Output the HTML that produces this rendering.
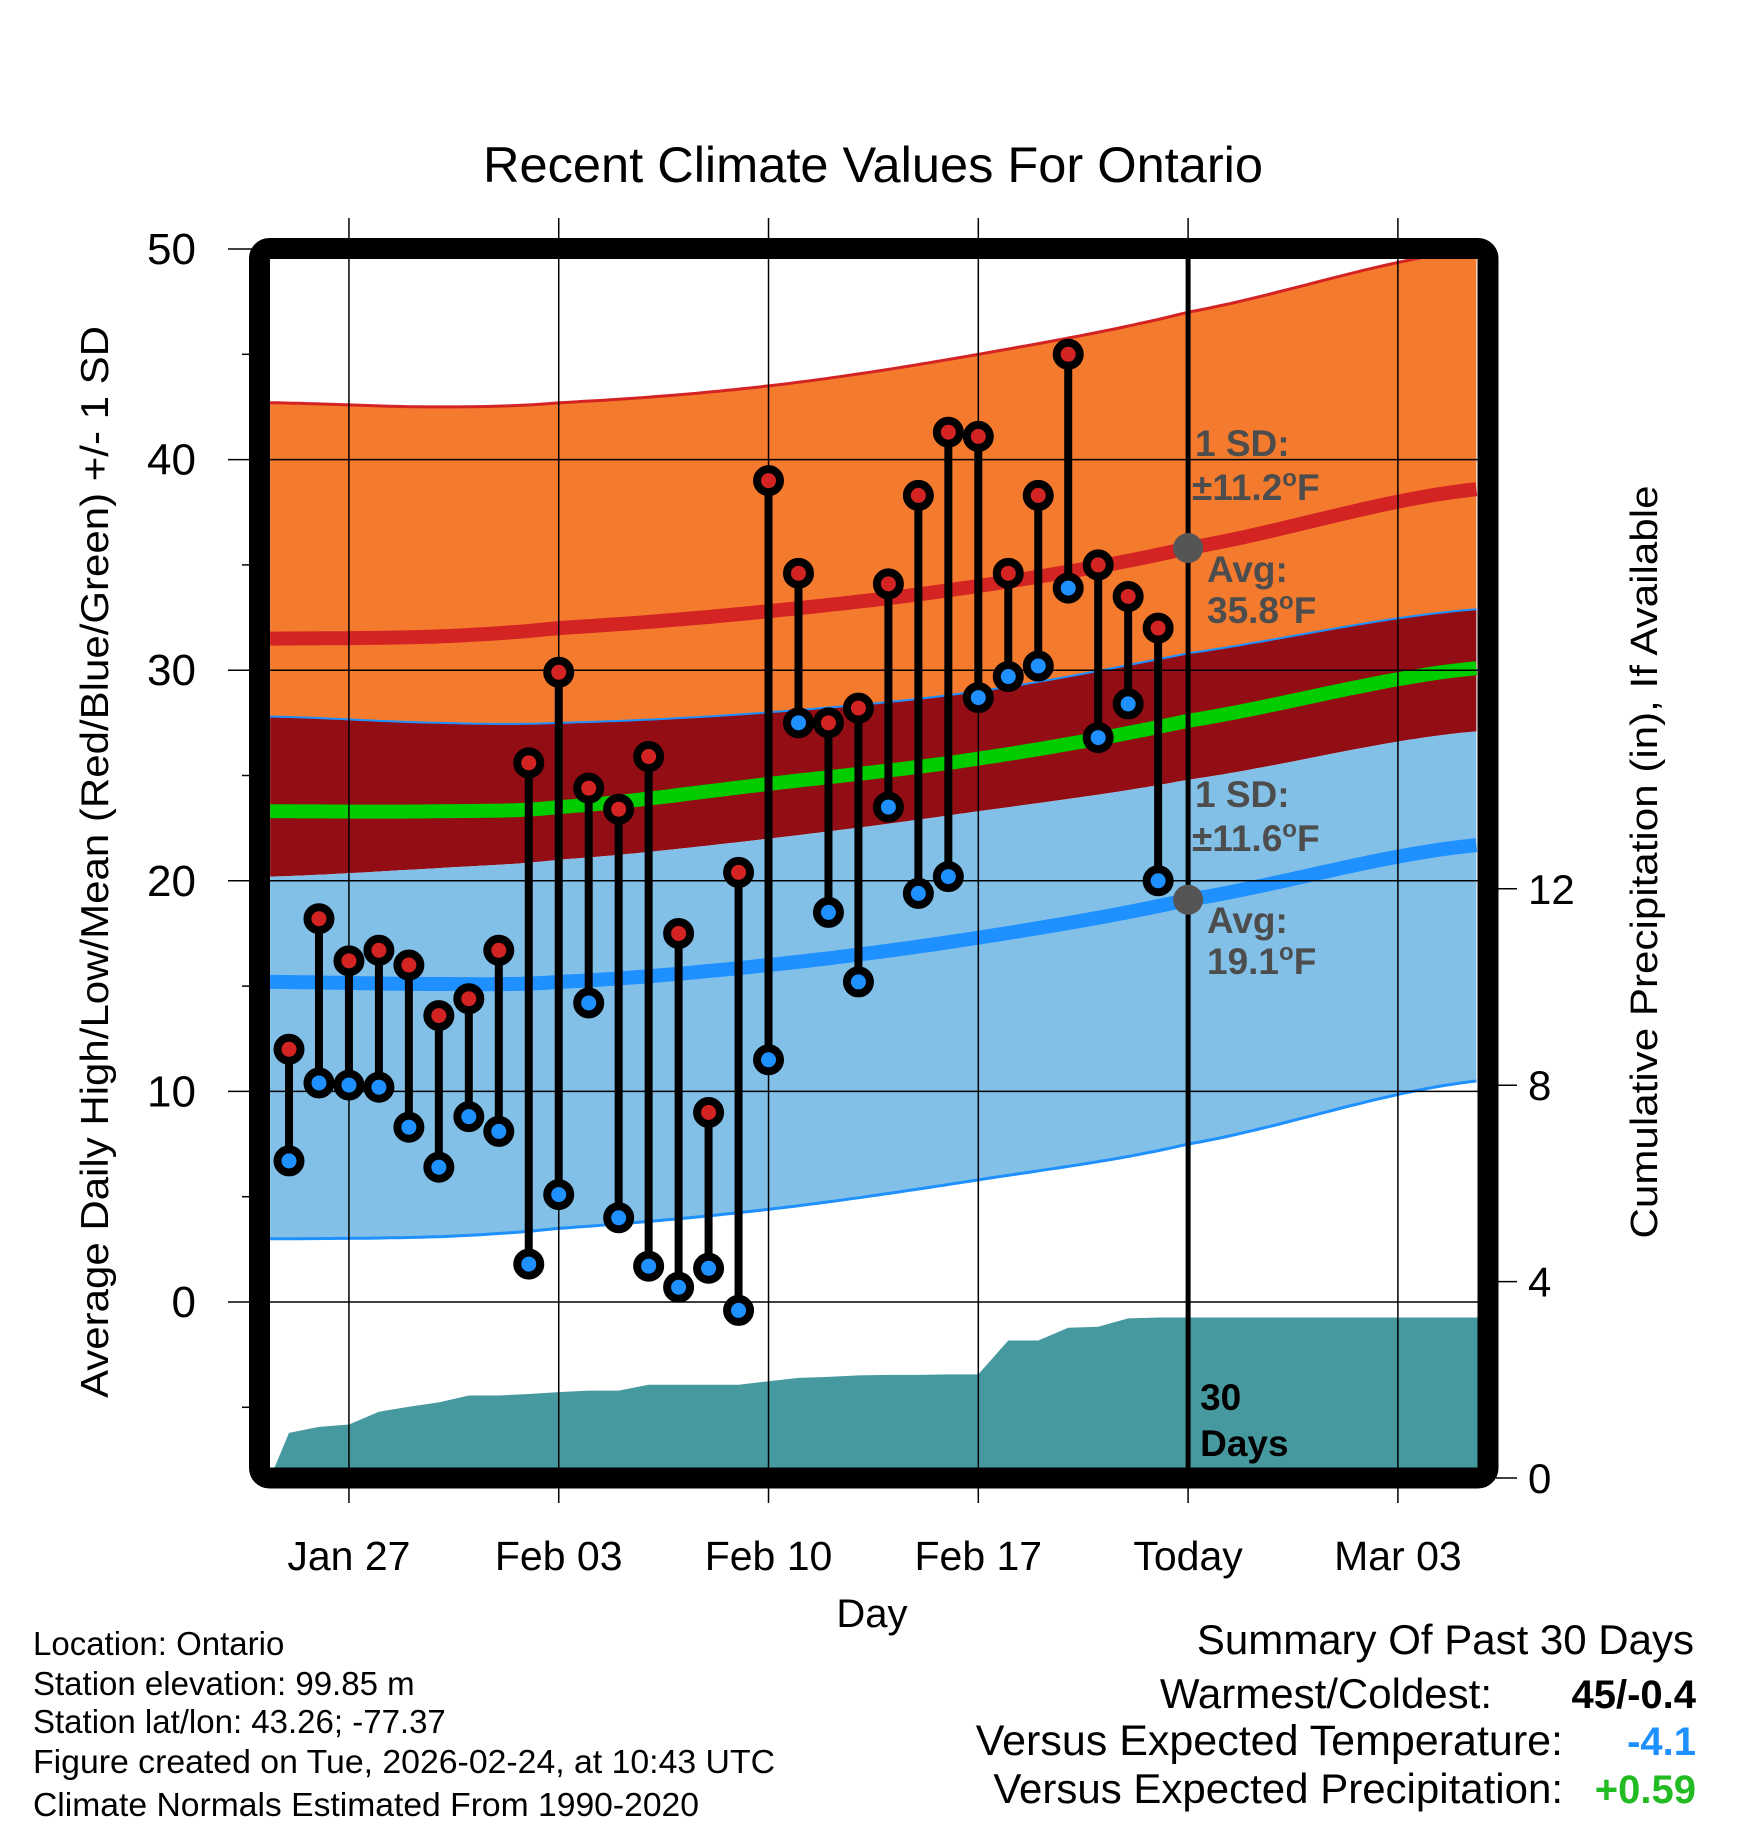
<!DOCTYPE html>
<html><head><meta charset="utf-8"><style>
html,body{margin:0;padding:0;background:#fff;}
svg{display:block;font-family:"Liberation Sans",Arial,sans-serif;}
</style></head><body>
<svg id="chart" width="1748" height="1828" viewBox="0 0 1748 1828" xmlns="http://www.w3.org/2000/svg">
<defs><clipPath id="plotclip"><rect x="270" y="259" width="1208" height="1209"/></clipPath></defs>
<rect x="0" y="0" width="1748" height="1828" fill="#fff"/>
<text x="873" y="182" font-size="50" text-anchor="middle" textLength="780" lengthAdjust="spacingAndGlyphs">Recent Climate Values For Ontario</text>
<g id="grid"></g>
<g id="plot" clip-path="url(#plotclip)"></g>
<g id="marks"></g>
<rect x="259.5" y="248.5" width="1228.5" height="1229.5" rx="10" fill="none" stroke="#000" stroke-width="21"/>
<g id="axes"></g>
<text transform="translate(108,862) rotate(-90)" font-size="39" text-anchor="middle" textLength="1072" lengthAdjust="spacingAndGlyphs">Average Daily High/Low/Mean (Red/Blue/Green) +/- 1 SD</text>
<text transform="translate(1657,862) rotate(-90)" font-size="38" text-anchor="middle" textLength="753" lengthAdjust="spacingAndGlyphs">Cumulative Precipitation (in), If Available</text>
<text x="872" y="1627" font-size="40" text-anchor="middle">Day</text>
<g font-size="33">
<text x="33" y="1655">Location: Ontario</text>
<text x="33" y="1695">Station elevation: 99.85 m</text>
<text x="33" y="1733">Station lat/lon: 43.26; -77.37</text>
<text x="33" y="1773" textLength="742" lengthAdjust="spacingAndGlyphs">Figure created on Tue, 2026-02-24, at 10:43 UTC</text>
<text x="33" y="1816" textLength="666" lengthAdjust="spacingAndGlyphs">Climate Normals Estimated From 1990-2020</text>
</g>
<g text-anchor="end">
<text x="1694" y="1654" font-size="42">Summary Of Past 30 Days</text>
<text x="1492" y="1708" font-size="42">Warmest/Coldest:</text>
<text x="1696" y="1708" font-size="40" font-weight="bold">45/-0.4</text>
<text x="1563" y="1755" font-size="43">Versus Expected Temperature:</text>
<text x="1696" y="1755" font-size="40" font-weight="bold" fill="#1e90ff">-4.1</text>
<text x="1563" y="1803" font-size="42">Versus Expected Precipitation:</text>
<text x="1696" y="1803" font-size="40" font-weight="bold" fill="#22bb22">+0.59</text>
</g>
</svg>
<script>
// ---- data (days measured from Jan 25) ----
const highs = [12.0,18.2,16.2,16.7,16.0,13.6,14.4,16.7,25.6,29.9,24.4,23.4,25.9,17.5,9.0,20.4,39.0,34.6,27.5,28.2,34.1,38.3,41.3,41.1,34.6,38.3,45.0,35.0,33.5,32.0];
const lows = [6.7,10.4,10.3,10.2,8.3,6.4,8.8,8.1,1.8,5.1,14.2,4.0,1.7,0.7,1.6,-0.4,11.5,27.5,18.5,15.2,23.5,19.4,20.2,28.7,29.7,30.2,33.9,26.8,28.4,20.0];
const precipCum = [0.92,1.04,1.09,1.35,1.45,1.54,1.68,1.68,1.71,1.75,1.78,1.78,1.9,1.9,1.9,1.9,1.97,2.04,2.06,2.09,2.1,2.1,2.11,2.11,2.8,2.8,3.06,3.08,3.25,3.27];
const normDays = [-0.63,5,9,16,23,30,39.67];
const highUpper = [42.7,42.5,42.7,43.5,45.0,47.0,50.0];
const highAvg = [31.5,31.6,32.0,32.8,34.0,35.8,38.6];
const highLower = [27.8,27.5,27.5,28.0,29.0,30.8,32.9];
const meanAvg = [23.3,23.3,23.5,24.6,25.8,27.6,30.1];
const lowUpper = [20.2,20.6,21.0,22.0,23.3,24.8,27.1];
const lowAvg = [15.2,15.1,15.2,16.0,17.3,19.1,21.7];
const lowLower = [3.0,3.1,3.5,4.4,5.8,7.5,10.5];
const yTicks = [0,10,20,30,40,50];
const y2Ticks = [0,4,8,12];
const xTickDays = [2,9,16,23,30,37];
const xTickLabels = ["Jan 27","Feb 03","Feb 10","Feb 17","Today","Mar 03"];
const todayDay = 30;
const todayHighAvg = 35.8, todayLowAvg = 19.1;

// ---- scales ----
const X0 = 289, DX = 29.97;
const xs = d => X0 + d*DX;
const ys = t => 249 + (50 - t)*21.06;
const yp = p => 1478 - p*49.1;
const NS = "http://www.w3.org/2000/svg";
function mk(tag, parent, attrs){ const e=document.createElementNS(NS,tag); for(const k in attrs) e.setAttribute(k,attrs[k]); parent.appendChild(e); return e; }

function interp(arr, d){
  let i=0; while(i<normDays.length-2 && d>normDays[i+1]) i++;
  const t=(d-normDays[i])/(normDays[i+1]-normDays[i]);
  const p0=arr[Math.max(i-1,0)],p1=arr[i],p2=arr[i+1],p3=arr[Math.min(i+2,arr.length-1)];
  const t2=t*t,t3=t2*t;
  return 0.5*((2*p1)+(-p0+p2)*t+(2*p0-5*p1+4*p2-p3)*t2+(-p0+3*p1-3*p2+p3)*t3);
}
const sampleDays=[]; for(let d=normDays[0]; d<=normDays[normDays.length-1]+0.001; d+=0.25) sampleDays.push(d);
function linePts(arr){ return sampleDays.map(d=>xs(d).toFixed(1)+","+ys(interp(arr,d)).toFixed(1)); }
function band(upper, lower){ return linePts(upper).concat(linePts(lower).reverse()).join(" "); }

const plot=document.getElementById('plot');
const marks=document.getElementById('marks');
const axes=document.getElementById('axes');

let e;
e=mk('polygon',plot,{points:band(highUpper,highLower),fill:'#f47a2e'});
 
e=mk('polygon',plot,{points:band(highLower,lowUpper),fill:'#930d14'});
 
e=mk('polygon',plot,{points:band(lowUpper,lowLower),fill:'#82c0e8'});
 
e=mk('polyline',plot,{points:linePts(highUpper).join(" "),fill:'none',stroke:'#d42323','stroke-width':3});
 
e=mk('polyline',plot,{points:linePts(highLower).join(" "),fill:'none',stroke:'#1e90ff','stroke-width':2});
 
e=mk('polyline',plot,{points:linePts(lowLower).join(" "),fill:'none',stroke:'#1e90ff','stroke-width':3});
 
e=mk('polyline',plot,{points:linePts(highAvg).join(" "),fill:'none',stroke:'#d42323','stroke-width':14});
 
e=mk('polyline',plot,{points:linePts(meanAvg).join(" "),fill:'none',stroke:'#00cc00','stroke-width':14});
 
e=mk('polyline',plot,{points:linePts(lowAvg).join(" "),fill:'none',stroke:'#1e90ff','stroke-width':14});
 

// precipitation area
let pp=[xs(normDays[0])+","+yp(0)];
precipCum.forEach((p,i)=>pp.push(xs(i)+","+yp(p)));
pp.push(xs(normDays[normDays.length-1])+","+yp(precipCum[precipCum.length-1]));
pp.push(xs(normDays[normDays.length-1])+","+yp(0));
e=mk('polygon',plot,{points:pp.join(" "),fill:'#4799a0'});
 

yTicks.forEach(t=>{
  e=mk('line',plot,{x1:260,x2:1490,y1:ys(t),y2:ys(t),stroke:'#000','stroke-width':1.5});
   
  e=mk('line',axes,{x1:228,x2:252,y1:ys(t),y2:ys(t),stroke:'#000','stroke-width':1.5});
   
  e=mk('text',axes,{x:196,y:ys(t)+15,'font-size':44,'text-anchor':'end'});
  e.textContent=t;
   
});
[5,15,25,35,45,-5].forEach(t=>{
  e=mk('line',axes,{x1:242,x2:252,y1:ys(t),y2:ys(t),stroke:'#000','stroke-width':1.5});
   
});
xTickDays.forEach((d,i)=>{
  e=mk('line',plot,{x1:xs(d),x2:xs(d),y1:250,y2:1480,stroke:'#000','stroke-width':1.5});
   
  e=mk('line',axes,{x1:xs(d),x2:xs(d),y1:218,y2:240,stroke:'#000','stroke-width':1.5});
   
  e=mk('line',axes,{x1:xs(d),x2:xs(d),y1:1486,y2:1503,stroke:'#000','stroke-width':1.5});
   
  e=mk('text',axes,{x:xs(d),y:1570,'font-size':41,'text-anchor':'middle'});
  e.textContent=xTickLabels[i];
   
});
y2Ticks.forEach(p=>{
  e=mk('line',axes,{x1:1496,x2:1517,y1:yp(p),y2:yp(p),stroke:'#000','stroke-width':1.5});
   
  e=mk('text',axes,{x:1528,y:yp(p)+15,'font-size':42});
  e.textContent=p;
   
});

e=mk('line',plot,{x1:xs(todayDay),x2:xs(todayDay),y1:250,y2:1480,stroke:'#000','stroke-width':5});
 
e=mk('text',plot,{x:xs(todayDay)+12,y:1410,'font-size':37,'font-weight':'bold'});
e.textContent='30';
 
e=mk('text',plot,{x:xs(todayDay)+12,y:1456,'font-size':37,'font-weight':'bold'});
e.textContent='Days';
 

highs.forEach((h,i)=>{
  const x=xs(i);
  e=mk('line',marks,{x1:x,x2:x,y1:ys(h),y2:ys(lows[i]),stroke:'#000','stroke-width':8});
   
  e=mk('circle',marks,{cx:x,cy:ys(h),r:11.5,fill:'#d42323',stroke:'#000','stroke-width':8});
   
  e=mk('circle',marks,{cx:x,cy:ys(lows[i]),r:11.5,fill:'#1e90ff',stroke:'#000','stroke-width':8});
   
});

e=mk('circle',marks,{cx:xs(todayDay),cy:ys(todayHighAvg),r:15,fill:'#555'});
 
e=mk('circle',marks,{cx:xs(todayDay),cy:ys(todayLowAvg),r:15,fill:'#555'});
 
function annot(x,y,main,sup,name){
  const t=mk('text',marks,{x:x,y:y,'font-size':37,'font-weight':'bold',fill:'#4d4d4d'});
  
  
  if(sup){
    t.appendChild(document.createTextNode(main));
    const s=mk('tspan',t,{'font-size':24,dy:-14}); s.textContent='o';
    const f=mk('tspan',t,{dy:14}); f.textContent='F';
  } else t.textContent=main;
}
annot(1195,456,'1 SD:',false,'high-sd-label');
annot(1192,500,'\u00b111.2',true,'high-sd-value');
annot(1207,582,'Avg:',false,'high-avg-label');
annot(1207,623,'35.8',true,'high-avg-value');
annot(1195,807,'1 SD:',false,'low-sd-label');
annot(1192,851,'\u00b111.6',true,'low-sd-value');
annot(1207,933,'Avg:',false,'low-avg-label');
annot(1207,974,'19.1',true,'low-avg-value');
</script>
</body></html>
